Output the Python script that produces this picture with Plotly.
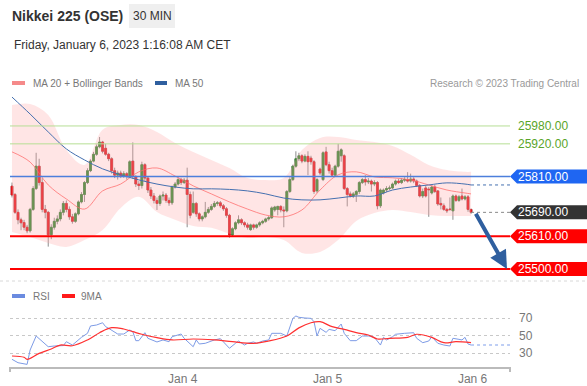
import pandas as pd
import plotly.graph_objects as go

# ---------------- data ----------------
open_ = [25778,25750,25690,25665,25656,25640,25628,25700,25770,25845,25790,25700,25690,25615,25640,25660,25668,25690,25720,25700,
         25675,25660,25685,25725,25750,25790,25830,25862,25885,25910,25926,25905,25885,25870,25830,25815,25822,25812,25820,25810,
         25862,25810,25785,25780,25850,25805,25765,25745,25730,25720,25745,25748,25730,25722,25775,25785,25800,25790,25798,25750,
         25690,25720,25685,25668,25675,25690,25700,25710,25720,25722,25712,25702,25680,25614,25635,25655,25665,25655,25648,25632,
         25648,25640,25648,25655,25660,25668,25672,25698,25700,25710,25698,25695,25760,25800,25845,25870,25880,25862,25878,25872,
         25860,25762,25835,25800,25893,25850,25830,25815,25845,25880,25880,25770,25752,25745,25750,25760,25790,25800,25792,25795,
         25785,25790,25712,25755,25765,25770,25772,25785,25795,25790,25798,25800,25795,25802,25795,25780,25745,25772,25768,25755,
         25775,25762,25720,25712,25700,25701,25695,25745,25730,25745,25735,25742,25700]
high = [25790,25755,25700,25672,25665,25648,25705,25778,25890,25870,25805,25715,25695,25650,25672,25680,25700,25728,25730,25710,
        25685,25690,25730,25758,25795,25838,25868,25893,25918,25943,25930,25920,25890,25875,25840,25830,25830,25828,25825,25865,
        25925,25815,25795,25860,25855,25810,25775,25755,25740,25750,25760,25755,25740,25780,25792,25808,25806,25805,25840,25760,
        25760,25725,25690,25680,25725,25708,25718,25728,25728,25728,25718,25708,25685,25640,25660,25680,25670,25660,25655,25652,
        25652,25652,25660,25665,25672,25678,25710,25712,25712,25714,25710,25765,25808,25850,25895,25890,25885,25885,25895,25880,
        25865,25805,25840,25895,25910,25860,25840,25850,25920,25905,25885,25775,25760,25758,25765,25795,25805,25815,25805,25800,
        25798,25795,25770,25770,25778,25780,25790,25800,25802,25805,25808,25825,25820,25808,25800,25785,25770,25780,25775,25780,
        25782,25765,25740,25720,25705,25740,25750,25750,25748,25770,25748,25748,25702]
low = [25740,25685,25650,25630,25630,25620,25622,25695,25765,25780,25690,25670,25575,25600,25632,25650,25660,25680,25690,25665,
       25652,25655,25680,25720,25725,25785,25825,25858,25880,25905,25888,25880,25862,25820,25805,25800,25805,25806,25800,25805,
       25802,25775,25765,25770,25795,25755,25735,25720,25698,25712,25730,25722,25712,25715,25770,25780,25782,25785,25640,25670,
       25685,25675,25660,25660,25670,25685,25695,25705,25712,25705,25695,25672,25605,25610,25630,25650,25648,25640,25632,25628,
       25632,25635,25642,25650,25655,25662,25668,25692,25680,25690,25640,25690,25755,25795,25840,25862,25855,25858,25815,25850,
       25752,25755,25815,25795,25845,25820,25810,25810,25840,25860,25765,25710,25740,25738,25725,25752,25785,25780,25785,25760,
       25778,25700,25705,25750,25758,25765,25768,25780,25785,25785,25792,25790,25790,25788,25775,25740,25738,25740,25675,25750,
       25755,25712,25700,25695,25688,25695,25665,25725,25725,25730,25730,25692,25685]
close = [25748,25690,25665,25655,25640,25628,25700,25770,25845,25790,25700,25690,25615,25640,25660,25668,25690,25720,25700,25675,
         25660,25685,25725,25750,25790,25830,25862,25885,25910,25926,25895,25885,25870,25830,25815,25822,25812,25820,25810,25860,
         25810,25785,25780,25850,25805,25765,25745,25730,25720,25745,25748,25730,25722,25775,25785,25800,25790,25798,25750,25680,
         25720,25685,25668,25675,25690,25700,25710,25720,25722,25712,25702,25680,25614,25635,25655,25665,25655,25648,25640,25648,
         25640,25648,25655,25660,25668,25672,25705,25708,25710,25698,25695,25760,25800,25845,25870,25880,25862,25878,25860,25860,
         25760,25800,25822,25890,25850,25830,25815,25845,25895,25900,25770,25750,25745,25752,25760,25790,25800,25792,25795,25785,
         25790,25712,25765,25765,25770,25772,25785,25795,25790,25798,25800,25795,25802,25795,25780,25745,25760,25745,25766,25775,
         25760,25718,25715,25700,25695,25700,25745,25730,25742,25735,25742,25700,25690]

first_bar = "2023-01-02 19:45"
bar_minutes = 30

# indicator samples (bar index -> value)
ind_bar = [0,6,12,18,24,30,36,42,48,54,60,66,72,78,84,90,96,102,108,114,120,126,132,138,144,150,152]
ma20 = [25893,25859,25782,25735,25701,25762,25785,25826,25839,25812,25779,25752,25725,25701,25681,25675,25698,25765,25816,25826,
        25809,25806,25799,25782,25765,25755,25752]
bb_upper = [26050,26054,26017,25899,25849,25967,25983,25983,25960,25923,25893,25866,25839,25805,25799,25805,25899,25940,25943,25933,
            25926,25913,25883,25849,25832,25826,25826]
bb_lower = [25624,25607,25587,25574,25597,25631,25705,25742,25691,25665,25644,25638,25618,25604,25607,25597,25554,25557,25597,25661,
            25688,25698,25691,25681,25678,25678,25678]
ma50 = [26077,26020,25960,25903,25866,25836,25816,25799,25785,25775,25769,25769,25767,25762,25752,25738,25732,25732,25738,25745,
        25745,25765,25775,25782,25789,25785,25782]

rsi_bar = [0,2,5,6,8,10,12,14,17,18,20,23,25,26,28,30,31,32,35,37,39,40,41,42,44,45,47,48,50,52,53,56,57,60,61,62,64,67,69,70,
           72,74,75,77,78,80,81,83,85,86,89,91,93,94,95,97,99,100,101,102,104,105,107,109,110,112,114,116,118,120,122,123,124,
           126,127,130,133,134,136,138,139,141,143,145,146,148,149,150,151,152]
rsi_val = [22.8,18.9,17.0,33.4,49.4,42.9,37.2,38.0,38.5,42.9,39.1,47.9,52.5,60.9,62.0,64.6,60.1,58.2,51.7,51.7,56.3,54.4,44.1,44.1,
           53.2,46.8,44.1,42.6,44.9,42.9,48.6,51.7,46.8,37.2,44.9,40.3,41.1,44.9,46.4,42.9,35.4,41.1,43.7,39.1,41.1,42.6,41.1,43.7,
           44.9,52.5,52.5,49.4,69.6,72.3,70.8,70.0,69.6,65.8,49.4,58.2,53.6,57.0,55.5,63.1,52.5,44.1,44.1,49.4,49.4,47.9,39.1,47.9,
           44.9,48.6,51.4,52.5,53.2,46.8,41.8,43.7,48.6,41.1,39.1,38.0,46.8,45.6,44.9,47.9,40.3,39.1]
rsi_ma_bar = [0,4,5,9,13,16,20,25,29,33,37,40,43,48,53,60,67,73,80,85,91,95,99,102,106,110,114,118,121,125,131,134,139,143,147,152]
rsi_ma_val = [26.6,25.1,22.8,29.6,34.6,39.1,38.3,44.9,53.2,58.9,57.4,54.4,51.4,47.5,44.9,46.0,44.9,42.9,41.1,43.7,49.4,58.7,64.6,
              65.8,60.1,57.0,53.2,50.6,46.0,46.8,47.9,51.4,47.9,41.8,42.9,41.8]

level_values = [25980, 25920, 25810, 25610, 25500]
level_roles = ["res2", "res1", "pivot", "sup1", "sup2"]
last_price = 25690

day_ticks = ["2023-01-04", "2023-01-05", "2023-01-06"]
day_labels = ["Jan 4", "Jan 5", "Jan 6"]

# ---------------- styling ----------------
W, H = 587, 386
ML, MR, MT, MB = 10, 77, 0, 19
PW, PH = W - ML - MR, H - MT - MB
FONT = "Liberation Sans, Arial, sans-serif"

def px(xp):
    return (xp - ML) / PW

def py(yp):
    return (PH - yp) / PH

bar = pd.Timedelta(minutes=bar_minutes)
times = pd.date_range(first_bar, periods=len(close), freq=f"{bar_minutes}min")
t0 = times[0]
x_range = [t0 - 0.66 * bar, t0 + 164.9 * bar]
ind_t = [times[i] for i in ind_bar]
rsi_t = [times[i] for i in rsi_bar]
rsi_ma_t = [times[i] for i in rsi_ma_bar]

GREEN = "#2a8a2e"
RED = "#e3141b"
MA50_COL = "#4570b0"
fig = go.Figure()

# Bollinger band fill
fig.add_trace(go.Scatter(x=ind_t, y=bb_lower, mode="lines", line=dict(width=0, shape="spline"),
                         hoverinfo="skip", xaxis="x", yaxis="y"))
fig.add_trace(go.Scatter(x=ind_t, y=bb_upper, mode="lines", line=dict(width=0, shape="spline"),
                         fill="tonexty", fillcolor="rgba(255,170,170,0.30)", hoverinfo="skip", xaxis="x", yaxis="y"))
fig.add_trace(go.Scatter(x=ind_t, y=ma20, mode="lines", line=dict(width=1, color="rgba(255,105,105,0.75)", shape="spline"),
                         xaxis="x", yaxis="y"))
fig.add_trace(go.Scatter(x=ind_t, y=ma50, mode="lines", line=dict(width=1, color=MA50_COL, shape="spline"),
                         xaxis="x", yaxis="y"))
fig.add_trace(go.Scatter(x=[ind_t[-1], x_range[1]], y=[ma50[-1], ma50[-1]], mode="lines",
                         line=dict(width=1, color=MA50_COL, dash="dot"), xaxis="x", yaxis="y"))

# candles: wicks (grey) then coloured bodies
fig.add_trace(go.Candlestick(x=times, open=open_, high=high, low=low, close=close,
                             increasing=dict(line=dict(color="#8c8c8c", width=1), fillcolor=GREEN),
                             decreasing=dict(line=dict(color="#8c8c8c", width=1), fillcolor=RED),
                             whiskerwidth=0, xaxis="x", yaxis="y"))
body_hi = [max(o, c) for o, c in zip(open_, close)]
body_lo = [min(o, c) for o, c in zip(open_, close)]
fig.add_trace(go.Candlestick(x=times, open=open_, high=body_hi, low=body_lo, close=close,
                             increasing=dict(line=dict(color=GREEN, width=0.6), fillcolor=GREEN),
                             decreasing=dict(line=dict(color=RED, width=0.6), fillcolor=RED),
                             whiskerwidth=0, xaxis="x", yaxis="y"))

# last price dotted extension
fig.add_trace(go.Scatter(x=[times[-1], x_range[1]], y=[last_price, last_price], mode="lines",
                         line=dict(width=1, color="#888888", dash="dot"), xaxis="x", yaxis="y"))

# RSI panel
fig.add_trace(go.Scatter(x=rsi_t, y=rsi_val, mode="lines", line=dict(width=1, color="#7d9be6"),
                         xaxis="x2", yaxis="y2"))
fig.add_trace(go.Scatter(x=[rsi_t[-1], x_range[1]], y=[rsi_val[-1], rsi_val[-1]], mode="lines",
                         line=dict(width=1.5, color="#a9bff2", dash="dot"), xaxis="x2", yaxis="y2"))
fig.add_trace(go.Scatter(x=rsi_ma_t, y=rsi_ma_val, mode="lines", line=dict(width=1.2, color="#ff3030", shape="spline"),
                         xaxis="x2", yaxis="y2"))

shapes = []
annotations = []
role_style = {
    "res2": dict(line="#b6df95", lw=1, box=None, txt="#5aa52a"),
    "res1": dict(line="#b6df95", lw=1, box=None, txt="#5aa52a"),
    "pivot": dict(line="#4d7fdc", lw=1.5, box="#1f66f2", txt="white"),
    "sup1": dict(line="#ff0000", lw=2, box="#ff0000", txt="white"),
    "sup2": dict(line="#ff0000", lw=2, box="#ff0000", txt="white"),
}
y_lo, y_hi = 25463, 26094
y_per_px = (y_hi - y_lo) / (PH * (0.7493 - 0.2371))
half = 7 * y_per_px
LABEL_X = px(516)

def label_box(v, color):
    tip, body, end = 1.0, px(517), px(587)
    return dict(type="path", xref="paper", yref="y", fillcolor=color, line=dict(width=0), layer="above",
                path=f"M {tip},{v} L {body},{v + half} L {end},{v + half} L {end},{v - half} L {body},{v - half} Z")

for v, r in zip(level_values, level_roles):
    st = role_style[r]
    shapes.append(dict(type="line", xref="paper", yref="y", x0=0, x1=1, y0=v, y1=v,
                       line=dict(color=st["line"], width=st["lw"]), layer="above"))
    if st["box"]:
        shapes.append(label_box(v, st["box"]))
    annotations.append(dict(x=LABEL_X, y=v, xref="paper", yref="y", xanchor="left", yanchor="middle",
                            text=f"{v:.2f}", showarrow=False, font=dict(size=12, color=st["txt"], family=FONT)))
shapes.append(label_box(last_price, "#333333"))
annotations.append(dict(x=LABEL_X, y=last_price, xref="paper", yref="y", xanchor="left", yanchor="middle",
                        text=f"{last_price:.2f}", showarrow=False, font=dict(size=12, color="white", family=FONT)))

# projection arrow
annotations.append(dict(x=times[-1] + 11.9 * bar, y=level_values[-1], xref="x", yref="y",
                        ax=times[-1] + 1.3 * bar, ay=last_price, axref="x", ayref="y",
                        text="", showarrow=True, arrowhead=2, arrowsize=0.9, arrowwidth=4,
                        arrowcolor="#2f5f9f", standoff=0, startstandoff=0))

# header
shapes.append(dict(type="rect", xref="paper", yref="paper", x0=px(129), x1=px(175), y0=py(28), y1=py(4),
                   fillcolor="#efefef", line=dict(width=0), layer="below"))
annotations += [
    dict(x=px(10), y=py(16), xref="paper", yref="paper", xanchor="left", yanchor="middle", showarrow=False,
         text="<b>Nikkei 225 (OSE)</b>", font=dict(size=14, color="#333333", family=FONT)),
    dict(x=px(152), y=py(16), xref="paper", yref="paper", xanchor="center", yanchor="middle", showarrow=False,
         text="30 MIN", font=dict(size=12, color="#333333", family=FONT)),
    dict(x=px(12), y=py(45), xref="paper", yref="paper", xanchor="left", yanchor="middle", showarrow=False,
         text="Friday, January 6, 2023 1:16:08 AM CET", font=dict(size=12, color="#333333", family=FONT)),
    dict(x=px(31), y=py(83), xref="paper", yref="paper", xanchor="left", yanchor="middle", showarrow=False,
         text="MA 20 + Bollinger Bands", font=dict(size=10, color="#777777", family=FONT)),
    dict(x=px(173), y=py(83), xref="paper", yref="paper", xanchor="left", yanchor="middle", showarrow=False,
         text="MA 50", font=dict(size=10, color="#777777", family=FONT)),
    dict(x=px(581), y=py(83), xref="paper", yref="paper", xanchor="right", yanchor="middle", showarrow=False,
         text="Research © 2023 Trading Central", font=dict(size=10, color="#999999", family=FONT)),
    dict(x=px(31), y=py(296), xref="paper", yref="paper", xanchor="left", yanchor="middle", showarrow=False,
         text="RSI", font=dict(size=10, color="#777777", family=FONT)),
    dict(x=px(79), y=py(296), xref="paper", yref="paper", xanchor="left", yanchor="middle", showarrow=False,
         text="9MA", font=dict(size=10, color="#777777", family=FONT)),
]
# legend swatches
for x0, x1, yc, col in [(12, 25, 83, "#f58a8a"), (155, 167, 83, "#2f5f9f"), (12, 25, 296, "#6b8be0"), (62, 75, 296, "#ff1a1a")]:
    shapes.append(dict(type="rect", xref="paper", yref="paper", x0=px(x0), x1=px(x1), y0=py(yc + 2), y1=py(yc - 2),
                       fillcolor=col, line=dict(width=0)))
# separator and axis end ticks
shapes.append(dict(type="line", xref="paper", yref="paper", x0=px(0), x1=px(587), y0=py(281), y1=py(281),
                   line=dict(color="#d8d8d8", width=1, dash="dot")))
for xe in (0, 1):
    shapes.append(dict(type="line", xref="paper", yref="paper", x0=xe, x1=xe, y0=py(367), y1=py(372),
                       line=dict(color="#bbbbbb", width=2)))

fig.update_layout(
    width=W, height=H, margin=dict(l=ML, r=MR, t=MT, b=MB),
    paper_bgcolor="white", plot_bgcolor="white", showlegend=False,
    boxgap=0.1, boxmode="overlay",
    font=dict(family=FONT),
    xaxis=dict(domain=[0, 1], range=x_range, type="date", anchor="y", visible=False,
               rangeslider=dict(visible=False), showgrid=False),
    yaxis=dict(domain=[0.2371, 0.7493], range=[y_lo, y_hi], visible=False, showgrid=False, anchor="x"),
    xaxis2=dict(domain=[0, 1], range=x_range, type="date", anchor="y2", matches="x",
                showline=True, linecolor="#bbbbbb", linewidth=2, showgrid=False, ticks="",
                tickvals=day_ticks, ticktext=day_labels, tickfont=dict(size=12, color="#777777"),
                rangeslider=dict(visible=False)),
    yaxis2=dict(domain=[0, 0.1826], range=[14, 90.6], side="right", anchor="x2",
                tickvals=[30, 50, 70], showgrid=True, gridcolor="#c8c8c8", griddash="dot", gridwidth=1,
                zeroline=False, showline=False, ticks="", ticklabelstandoff=8,
                tickfont=dict(size=12, color="#777777")),
    shapes=shapes, annotations=annotations,
)

fig.write_html("out.html", config={"displayModeBar": False},
               post_script="document.body.style.margin='0px';document.body.style.overflow='hidden';")
